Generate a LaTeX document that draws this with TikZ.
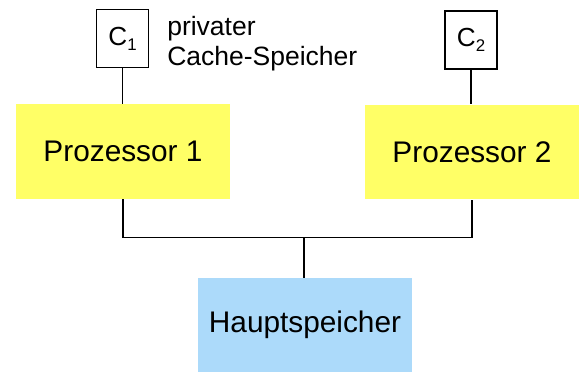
\documentclass[tikz,border=0pt]{standalone}
\usepackage{fontspec}
\setmainfont{Liberation Sans}
\usepackage{xcolor}
\usepackage{tikz}
\usetikzlibrary{positioning}

\definecolor{procyellow}{RGB}{255,255,102}
\definecolor{memblue}{RGB}{172,218,250}
\newcommand{\cachesub}[1]{\raisebox{-3.4pt}{\fontsize{12}{12}\selectfont #1}}

\begin{document}
\begin{tikzpicture}[
		wire/.style={draw=black, line width=1.4pt},
		cachebox/.style={draw=black, line width=0.9pt, fill=white, minimum width=1.3cm, minimum height=1.45cm, inner sep=0pt, font=\fontsize{18.6}{21}\selectfont},
		procbox/.style={fill=procyellow, minimum width=5.35cm, minimum height=2.37cm, inner sep=0pt, font=\fontsize{21.2}{25}\selectfont},
		membox/.style={fill=memblue, minimum width=5.35cm, minimum height=2.35cm, inner sep=0pt, font=\fontsize{21.2}{25}\selectfont},
		notetext/.style={align=left, inner sep=0pt, font=\fontsize{18.85}{21.34}\selectfont}]
		% Paths, nodes and wires:
		\useasboundingbox (0, 0) rectangle (14.6, 9.3);
		\node[procbox](P1) at (3.075, 5.5125){Prozessor 1};
		\node[procbox](P2) at (11.8, 5.5){Prozessor 2};
		\node[membox](M) at (7.625, 1.175){Hauptspeicher};
		\node[cachebox](C1) at (3.0625, 8.3375){C\cachesub{1}};
		\node[cachebox](C2) at (11.775, 8.3){C\cachesub{2}};
		\node[notetext, anchor=north west](N1) at (4.175, 8.9){privater\\Cache-Speicher};
		\coordinate (B) at (7.61, 3.3625);
		\draw[wire] (C1.south) -- (C1.south |- P1.north);
		\draw[wire] (C2.south) -- (C2.south |- P2.north);
		\draw[wire] (P1.south) |- (B) -| (P2.south);
		\draw[wire] (B) -- (B |- M.north);
	\end{tikzpicture}
\end{document}
